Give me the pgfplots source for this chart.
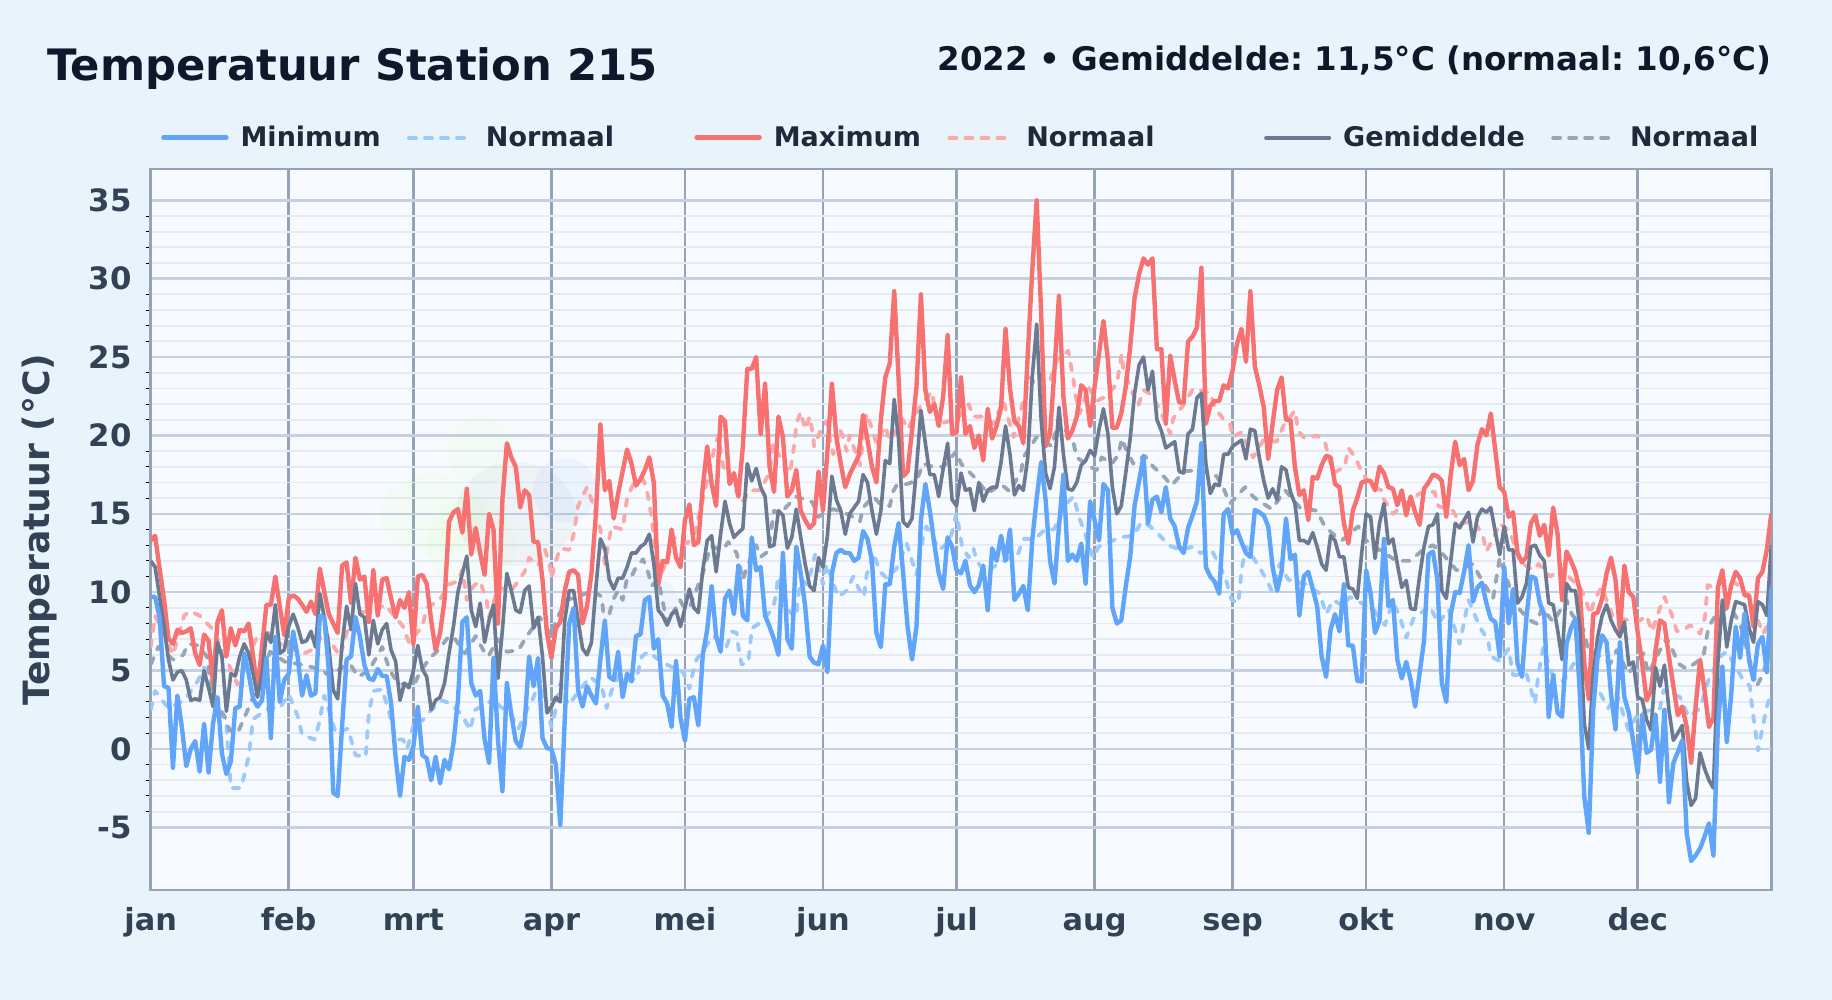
\documentclass[border=0pt]{standalone}
\usepackage{fontspec}
\setmainfont{DejaVu Sans}
\usepackage{pgfplots}
\usepackage{pgfplotstable}
\pgfplotsset{compat=1.18}
\usepgfplotslibrary{fillbetween}

\definecolor{pagebg}{HTML}{E9F3FC}
\definecolor{plotbg}{HTML}{F7FBFF}
\definecolor{titlec}{HTML}{0F172A}
\definecolor{labelc}{HTML}{334155}
\definecolor{legc}{HTML}{1E293B}
\definecolor{gridv}{HTML}{94A3B8}
\definecolor{gridh}{HTML}{C5D0E0}
\definecolor{gridm}{HTML}{E6EBF3}
\definecolor{cmin}{HTML}{60A5FA}
\definecolor{cmax}{HTML}{F87171}
\definecolor{cgem}{HTML}{6B7A90}
\definecolor{nmin}{HTML}{9CC8FB}
\definecolor{nmax}{HTML}{FBA8A8}
\definecolor{ngem}{HTML}{98A5B6}

\pgfplotsset{
    layers/withpage/.define layer set={page,axis background,axis grid,axis ticks,axis lines,axis tick labels,pre main,main,axis descriptions,axis foreground}{},
    set layers=withpage,
}

% daily values: day, minimum, maximum, mean
\pgfplotstableread{
day tmin tmax tgem
0 9.7 13.3 12.0
1 9.7 13.6 11.6
2 8.4 11.5 9.7
3 4.0 9.5 7.8
4 3.9 7.05 5.7
5 -1.2 6.7 4.4
6 3.4 7.6 4.9
7 1.4 7.4 5.0
8 -1.1 7.5 4.4
9 0 7.7 3.1
10 0.5 6.1 3.2
11 -1.45 5.35 3.1
12 1.6 7.3 5.0
13 -1.5 6.9 3.9
14 1.6 4.2 2.7
15 3.3 8.1 6.8
16 -0.3 8.85 5.9
17 -1.6 5.9 2.4
18 -0.8 7.7 4.8
19 2.6 6.6 4.65
20 2.7 7.6 5.9
21 6.1 7.5 6.7
22 4.8 8.0 6.1
23 3.2 5.9 4.8
24 2.7 3.75 3.3
25 3.1 6.5 4.8
26 5.8 9.2 7.4
27 0.7 9.2 6.8
28 7.15 11.0 9.2
29 3.0 9.1 6.1
30 4.4 7.25 6.3
31 4.8 9.6 7.8
32 7.5 9.8 8.6
33 5.9 9.6 7.8
34 3.4 9.2 6.8
35 4.7 8.75 6.9
36 3.4 9.4 7.5
37 3.55 8.6 6.5
38 8.5 11.5 9.9
39 8.4 10.0 8.4
40 5.0 8.6 6.5
41 -2.8 8.0 3.75
42 -3.0 7.4 3.2
43 1.5 11.7 6.7
44 5.7 11.9 9.1
45 5.9 9.3 7.6
46 8.4 12.2 10.55
47 7.15 10.8 8.6
48 5.35 11.0 8.4
49 4.5 8.1 6.0
50 4.4 11.4 8.2
51 5.1 8.5 6.7
52 4.65 10.8 7.6
53 4.65 10.9 8.0
54 2.9 9.6 6.3
55 -0.5 8.4 5.6
56 -3.0 9.5 3.1
57 -0.5 9.0 4.2
58 -0.7 10.0 3.9
59 0.15 6.7 5.0
60 2.7 11.0 6.6
61 -0.4 11.1 5.1
62 -0.6 10.55 4.6
63 -2.0 8.2 2.5
64 -0.5 6.3 3.1
65 -2.2 7.4 3.3
66 -0.7 9.5 4.2
67 -1.3 14.5 6.1
68 0.35 15.1 7.8
69 3.1 15.3 10.0
70 8.1 13.8 11.2
71 8.4 16.6 12.3
72 4.2 12.4 8.85
73 3.4 14.1 7.8
74 3.7 12.5 9.3
75 0.6 11.1 6.8
76 -0.9 15.0 8.2
77 5.8 14.0 9.2
78 0.6 8.0 4.5
79 -2.7 15.9 7.6
80 4.2 19.5 11.2
81 2.2 18.6 10.1
82 0.5 18.0 8.85
83 0.1 15.4 8.7
84 1.6 16.5 10.1
85 5.9 16.2 10.4
86 4.0 13.2 7.7
87 5.8 13.2 8.4
88 0.7 10.8 5.9
89 0.05 7.4 2.3
90 0 5.8 2.7
91 -1.0 7.7 3.3
92 -4.85 8.1 3.0
93 1.9 10.1 8.2
94 8.0 11.3 10.1
95 9.0 11.4 10.1
96 3.75 11.1 8.2
97 2.7 8.0 6.4
98 4.0 9.1 6.0
99 3.4 11.2 6.8
100 2.9 15.0 10.3
101 5.7 20.7 13.4
102 8.2 16.5 12.8
103 4.6 17.1 10.8
104 4.4 14.7 10.2
105 6.2 16.3 10.9
106 3.3 17.7 10.9
107 4.8 19.1 11.6
108 4.3 18.2 12.5
109 7.2 16.8 12.5
110 7.3 17.2 12.9
111 9.5 17.8 13.1
112 9.7 18.6 13.7
113 6.4 17.0 11.8
114 7.0 10.5 8.85
115 3.4 12.0 8.5
116 2.9 11.9 7.9
117 1.4 14.0 8.6
118 5.6 12.2 8.85
119 2.0 11.6 7.8
120 0.5 14.6 9.0
121 3.2 15.6 10.2
122 3.3 13.0 9.0
123 1.5 13.2 8.7
124 6.0 16.7 11.4
125 7.6 19.3 13.3
126 10.4 16.9 13.6
127 7.2 15.5 11.3
128 6.2 21.2 13.7
129 9.6 20.9 15.8
130 10.1 16.9 14.4
131 8.6 17.6 13.5
132 11.7 16.1 13.8
133 8.5 19.3 14.05
134 8.2 24.25 18.2
135 13.5 24.25 17.1
136 11.4 25.0 17.9
137 11.6 20.1 16.7
138 8.5 23.3 16.1
139 7.8 18.0 12.9
140 7.0 16.4 13.0
141 6.0 21.2 15.2
142 12.5 19.9 14.9
143 7.0 16.1 12.8
144 6.4 16.5 13.5
145 12.9 17.8 15.3
146 11.2 15.2 13.5
147 9.1 14.6 11.8
148 5.9 14.1 10.4
149 5.5 14.4 10.1
150 5.4 17.7 12.2
151 6.6 15.2 11.6
152 4.9 19.0 13.6
153 11.2 23.3 17.4
154 12.5 19.9 15.9
155 12.7 18.2 15.2
156 12.5 16.7 13.7
157 12.5 17.5 15.0
158 12.0 18.1 15.4
159 12.2 18.7 15.8
160 13.9 21.3 17.5
161 13.4 19.7 17.0
162 12.0 18.0 15.2
163 7.4 17.0 13.7
164 6.5 21.0 15.2
165 10.5 23.7 18.4
166 10.5 24.6 18.2
167 12.9 29.2 22.3
168 14.4 23.5 19.7
169 11.2 17.4 14.5
170 7.8 17.7 14.2
171 5.7 20.3 14.7
172 7.8 23.1 17.9
173 14.6 29.0 21.6
174 16.9 22.9 19.5
175 15.2 21.5 17.5
176 13.1 22.0 17.5
177 11.2 20.6 16.1
178 10.2 22.5 17.9
179 13.5 26.4 19.5
180 12.9 20.1 15.9
181 11.4 20.2 15.5
182 11.2 23.7 17.6
183 12.0 20.1 16.5
184 10.45 20.6 16.6
185 10.0 19.2 15.2
186 10.45 20.0 17.0
187 11.7 18.4 15.8
188 8.85 21.7 16.5
189 12.8 19.8 16.7
190 12.0 20.6 16.7
191 13.6 21.8 18.3
192 12.0 26.8 20.6
193 14.0 23.0 18.8
194 9.5 20.9 16.2
195 9.9 20.6 16.8
196 10.4 19.5 16.5
197 8.85 25.2 18.6
198 13.3 30.5 23.7
199 16.0 35.0 27.1
200 18.3 27.8 21.0
201 15.9 19.3 17.6
202 12.0 20.1 16.6
203 10.55 24.2 18.0
204 14.2 28.9 21.8
205 17.5 22.5 18.8
206 12.0 19.8 16.6
207 12.4 20.3 16.5
208 12.0 21.2 17.0
209 13.1 23.2 18.1
210 10.55 22.9 18.4
211 15.8 20.6 19.05
212 14.6 23.1 18.7
213 13.3 25.2 20.4
214 16.9 27.3 21.7
215 16.5 24.8 20.1
216 9.0 20.5 16.7
217 8.0 20.5 15.0
218 8.2 21.4 15.5
219 10.35 23.1 17.6
220 12.25 25.6 19.8
221 15.55 28.8 22.7
222 17.1 30.3 24.5
223 18.7 31.3 25.0
224 14.4 30.9 22.9
225 15.9 31.3 24.1
226 16.1 25.5 21.0
227 15.1 25.5 20.3
228 16.7 20.75 19.2
229 14.7 25.1 19.4
230 14.2 23.5 19.6
231 12.9 22.1 17.7
232 12.5 22.1 17.6
233 14.1 26.0 20.1
234 14.9 26.3 20.4
235 15.8 26.9 22.4
236 19.5 30.7 22.7
237 11.6 20.75 18.2
238 11.0 21.9 16.3
239 10.65 22.2 16.9
240 9.9 22.2 16.8
241 15.0 23.2 18.8
242 15.3 23.0 18.8
243 13.7 24.15 19.3
244 13.95 25.85 19.5
245 13.2 26.8 19.7
246 12.5 24.7 18.5
247 12.25 29.2 20.4
248 15.25 24.4 20.3
249 15.1 23.2 18.6
250 14.9 21.8 17.1
251 14.2 18.5 16.0
252 11.6 20.75 16.6
253 10.1 22.9 15.9
254 11.3 23.7 18.0
255 14.7 21.0 17.8
256 12.1 21.0 16.4
257 12.4 18.0 15.65
258 8.5 16.2 13.3
259 11.0 16.5 13.3
260 11.3 14.6 13.1
261 10.2 17.35 13.8
262 9.1 17.25 12.9
263 5.9 18.1 11.8
264 4.6 18.7 11.4
265 7.6 18.6 13.6
266 8.6 16.9 13.3
267 7.5 16.7 12.25
268 10.5 14.4 12.25
269 6.6 13.1 10.3
270 6.6 15.2 10.2
271 4.35 16.0 9.6
272 4.3 17.0 12.5
273 11.4 17.1 15.0
274 9.9 17.1 14.8
275 7.4 16.5 12.15
276 8.2 18.0 14.4
277 13.4 17.6 15.65
278 9.1 16.7 13.1
279 9.5 16.6 13.4
280 5.7 15.55 11.8
281 4.5 16.5 10.3
282 5.55 14.9 10.75
283 4.4 16.1 8.95
284 2.7 15.1 8.9
285 4.8 14.3 11.0
286 6.9 16.6 12.9
287 12.4 17.0 14.2
288 12.6 17.5 14.3
289 10.8 17.4 15.0
290 4.2 17.1 10.1
291 3.0 14.8 9.6
292 8.6 17.5 12.0
293 10.0 19.6 14.4
294 9.95 18.1 14.1
295 11.3 18.5 14.6
296 13.0 16.5 15.1
297 9.4 17.1 13.2
298 10.3 19.4 14.8
299 10.6 20.4 15.3
300 9.3 20.0 15.1
301 8.3 21.4 15.4
302 8.1 19.05 13.85
303 5.9 16.7 12.4
304 11.6 16.4 14.2
305 8.0 14.8 12.7
306 10.2 15.1 12.7
307 5.45 12.5 9.3
308 4.6 11.9 9.7
309 8.4 12.25 10.55
310 11.0 14.4 12.9
311 10.9 14.9 13.0
312 9.3 13.6 12.35
313 8.6 14.3 12.0
314 2.05 12.35 9.3
315 4.7 15.4 9.2
316 2.3 13.7 7.6
317 2.05 9.5 5.7
318 6.7 12.6 10.55
319 7.7 12.0 10.1
320 8.3 11.3 10.1
321 3.5 10.1 7.8
322 -3.05 5.45 1.6
323 -5.35 3.2 0
324 2.5 8.6 4.8
325 5.9 8.7 7.15
326 7.25 9.6 8.5
327 6.8 11.2 9.2
328 3.5 12.2 8.2
329 1.25 10.8 7.6
330 6.8 7.5 7.15
331 3.3 11.7 8.1
332 2.3 10.0 5.35
333 0.45 9.7 5.55
334 -1.55 7.4 3.3
335 2.2 5.45 3.15
336 -0.25 3.1 1.85
337 -0.05 3.75 1.2
338 2.2 6.3 5.2
339 -2.1 8.2 4.0
340 2.5 8.0 5.35
341 -3.4 5.9 2.5
342 -0.9 4.0 0.55
343 -0.2 2.15 1.0
344 0.55 2.7 1.5
345 -5.4 1.4 -2.1
346 -7.15 -0.9 -3.6
347 -6.8 2.7 -3.15
348 -6.35 5.7 -0.25
349 -5.6 3.75 -1.25
350 -4.75 1.4 -2.0
351 -6.8 2.0 -2.5
352 1.4 10.3 5.5
353 5.25 11.4 9.5
354 0.45 9.0 6.5
355 3.5 10.45 8.2
356 7.8 11.3 9.4
357 5.8 10.9 9.3
358 8.65 9.8 9.2
359 5.65 9.8 7.7
360 4.4 7.8 6.8
361 6.7 10.9 9.4
362 7.15 11.3 9.2
363 4.9 12.7 8.5
364 10.3 15.0 13.0
}\daily

% normal minimum
\pgfplotstableread{
day val
0 2.5
1 3.7
4 2.6
7.5 3.1
10.5 4.3
12 5.2
14 4.0
15 2.9
17 1.5
18 -2.5
20.3 -2.5
22 -0.5
23 1.9
25 2.3
26.5 2.6
29 2.6
31 3.5
33 2.1
34 0.9
36.8 0.6
37.7 1.5
39 3.4
41.6 1.0
44.3 1.3
46 -0.4
48.3 -0.5
49 2.3
50 3.7
52 3.8
53.6 2.3
55 0.6
56.7 0.6
57.6 0
59.4 1.9
61 1.8
62.7 2.4
65.4 3.1
67.2 2.9
69.9 2.2
71.7 1.2
72.9 2.5
74.3 2.7
75.8 2.9
77 3.3
78.5 2.7
80.7 2.3
82.6 1.3
84.5 2.5
86 3.3
87.4 4.4
90 1.4
90.8 2.3
92 4.2
93.8 2.8
95.7 3.5
98.7 4.6
101.3 4.0
102.4 2.6
103.5 3.7
105.4 4.8
109 4.4
110.3 5.9
111.8 6.2
115 5.5
119.6 4.9
121 3.85
121.7 4.8
122.6 5.7
126.3 7.2
129.3 6.5
130.5 7.5
131.6 7.4
132 6.5
132.7 5.4
134.2 5.5
134.6 6.5
135 7.7
137.2 8.1
139.8 9.0
140.5 9.9
140.9 11.0
143.5 8.75
145 8.4
145.4 9.7
146.2 10.8
147.3 10.5
148.4 11.4
149.2 12.4
151 10.5
151.8 11.8
154.4 9.7
156.3 10.1
157.8 11.0
158.9 10.3
160.2 9.7
160.8 11.1
162.3 12.5
163.8 11.3
165.3 10.9
167.5 11.5
169.8 13.1
170.9 12.1
172 11.1
173.5 13.5
174.2 14.2
177.2 12.7
179.5 13.3
181 15.0
182.2 13.0
183.7 12.2
184.8 12.8
185.5 12.0
187.4 11.3
191 11.9
194.9 12.5
196 13.4
198.6 13.4
200.9 14.0
202.8 14.0
204.3 14.8
205.8 15.7
207.3 16.1
208.4 14.9
209.5 14.0
211.7 12.2
212.9 12.9
217.7 13.5
220.7 13.6
222.6 14.5
224.5 14.2
226.7 13.6
228.6 13.0
231.2 12.7
234.2 12.9
235.7 12.5
238.3 12.7
240.6 11.4
241.7 10.6
242.8 9.5
244.3 9.3
245 11.4
246 12.9
249 11.6
250.6 10.8
251.8 10.1
253.6 11.8
255.5 10.8
259.6 10.5
262.6 9.9
264 8.6
265.6 9.5
267.9 9.1
269.3 9.7
272 9.3
274.6 8.9
277.2 7.9
279 9.4
280.6 8.4
282 7.1
283.6 8.3
287.3 9.1
289.2 8.0
291.5 8.9
294 6.7
295.2 8.4
296 9.5
298.5 7.8
300.4 6.9
301 5.9
303 5.6
305 6.4
306 4.7
309 4.8
310.9 2.9
311.7 4.8
312.8 6.5
314.7 4.8
317.3 4.3
319.6 5.45
321.8 5.2
325.2 3.75
327.4 2.6
329.3 3.5
331.9 1.2
334.2 2.3
339 2.6
339.8 3.75
343.5 3.3
345.4 2.05
348 2.6
349.9 4.4
352.5 5.9
354 6.2
357.7 4.4
359.2 4.0
359.6 2.9
361 -0.1
363 2.7
364 3.6
}\normmin

% normal maximum
\pgfplotstableread{
day val
0 6.5
1 8.5
5 6.0
7.5 8.5
8.8 8.8
11 8.5
13.7 7.7
16 6.4
19.5 4.1
23.9 7.2
26.5 7.4
29.5 6.6
34.5 6.1
36.8 6.4
39 7.5
42.5 5.9
44 7.4
46 8.7
50 8.8
52.6 9.2
55 8.4
56.7 7.8
58 6.8
61 7.8
62 9.0
64.9 9.5
67 10.5
69 10.7
70 11.4
71 9.5
72.5 10.4
74 10.7
75.5 9.4
76 8.4
78 10.3
81 10.1
82.5 10.7
84 11.3
85 12.2
87 11.7
88.6 12.7
89.7 11.6
90 10.9
91 12.0
92 12.8
94 12.7
95 13.7
96 15.5
98 16.7
99 15.9
101 14.0
102 11.8
103.5 14.2
106 14.0
107 16.0
108.4 16.9
110.6 17.2
111.4 16.6
112.5 14.8
114 10.8
116 12.0
117.4 13.5
120.4 13.1
122 13.6
124 15.9
126.7 19.3
127.5 20.0
128.6 18.0
130.5 17.1
132.7 15.7
134.6 16.5
136.8 16.5
139 17.6
139.8 19.5
141.7 18.4
143.6 17.6
144.7 19.7
145 20.75
146 21.5
147 20.4
148 21.2
148.8 20.0
149 19.3
150.3 20.2
151.8 20.9
153.3 18.8
154.8 20.4
155.5 19.9
156.3 19.0
157 20.0
158.2 19.0
159.3 18.1
160.8 21.4
161.9 20.5
163 19.5
165 20.6
166 19.7
169 21.0
170 20.4
172.7 21.8
175.4 22.8
176.9 20.75
181 21.0
183.7 22.0
184.8 21.2
187 21.2
189.3 20.75
191.5 22.2
193.8 19.9
196 22.2
197.5 23.7
199.8 22.9
202 23.5
203.5 24.8
206.1 25.4
207.3 23.5
207.6 22.7
208.7 21.4
210.6 23.1
212.5 22.2
214.7 22.5
217 23.3
218.1 25.2
218.5 24.1
220.4 22.8
221.8 21.9
223 22.9
224.8 22.6
226.7 21.6
229 20.1
229.7 21.1
231.6 21.8
234.2 23.0
238 22.7
239 21.8
241 21.0
242.4 20.75
243 19.9
245 20.2
247.6 18.6
249.9 19.7
252.9 19.6
254.4 20.6
257 21.6
257.7 20.3
259.2 19.8
261.9 20.0
263.7 19.6
265.6 17.6
268.2 18.0
269 19.2
270.8 18.5
272 17.6
274.6 16.7
276.5 16.5
276.8 16.0
279 15.0
285 16.3
286.6 16.4
288.4 16.4
289.2 15.5
292.5 15.2
294 14.4
297.4 14.5
299.3 13.5
300 12.6
301.5 13.4
303 14.4
305.3 13.85
307.6 11.9
310.6 11.4
311.7 11.8
314.3 11.0
317.7 11.6
318.8 10.9
321 10.3
322.2 9.6
323.3 8.6
324.4 9.6
325.9 10.3
328.5 8.4
332.3 8.2
334.5 8.2
336 8.5
337.2 7.5
339 9.0
340 9.7
341.6 8.6
342.8 7.5
344.3 7.6
345.8 7.9
348 7.35
349.1 8.4
349.7 10.45
351 10.3
354.7 10.9
358.5 9.9
362.2 7.35
364 8.4
}\normmax

% normal mean
\pgfplotstableread{
day val
0 5.4
1.7 6.5
5 5.7
7.3 6.0
8.4 6.7
10.7 6.6
12.6 5.9
14 3.3
16.7 2.0
17.7 1.2
19.5 1.0
21.5 2.3
25 4.6
26.8 6.2
30.5 5.5
32.8 5.45
38 5.1
40 4.7
44.7 5.45
46.6 4.6
49 5.0
52 6.5
53.7 5.0
55.6 4.2
59 4.0
60.5 4.9
62.7 5.8
64.6 6.3
67 7.2
68.4 7.0
70.6 6.1
73 7.2
74.7 6.3
75.8 5.9
78 7.0
80 6.2
82.6 6.3
84.5 7.2
86 7.8
87.4 8.4
90 7.2
91 8.2
93.4 9.5
95.7 9.7
97.5 9.9
99.4 10.1
101.3 9.7
101.7 8.6
103 8.6
104 9.6
105 10.1
106 9.5
107 10.9
108 11.0
109 11.6
110.6 12.1
111.8 11.2
112.5 10.4
114 10.8
116 8.0
118.9 9.5
119.6 9.1
121 9.0
124 11.2
125.7 12.9
128.6 12.7
129.7 13.2
131.6 12.5
133 10.8
133.8 11.5
136 13.0
137 12.25
138.7 12.6
140 15.2
141.3 15.0
145 16.1
147 15.9
148.6 15.75
150 14.8
151 15.0
153.3 15.3
156.3 15.0
157.8 14.8
159.3 14.5
160 15.4
162.3 16.1
163.8 15.65
166 15.5
166.7 16.4
167.5 16.8
169.8 16.9
172 17.1
173.5 18.2
175.7 18.0
178 18.0
181 19.0
182 18.2
184.8 17.4
188 16.3
191 16.9
193 16.4
195.6 17.8
196 18.6
199 19.9
202.4 19.3
204 21.0
207.3 19.5
208 18.6
211 18.0
212.5 17.8
213.6 18.6
215.9 18.2
217.4 18.8
218.1 19.8
219.2 19.0
220.7 18.2
223.3 18.7
225.2 18.0
227.5 17.4
229.3 16.8
232 17.7
235.3 17.8
239.4 17.4
241 16.6
242.4 15.65
245.8 16.7
247.6 16.1
249.1 15.8
251.8 15.3
254.8 16.5
258.1 15.4
261.9 15.2
263.7 14.2
266 13.6
267.5 13.3
269.3 13.7
271.2 14.2
273 13.3
276 12.7
279.8 12.0
282.8 12.0
285.8 12.7
288 13.0
290.3 12.4
293.3 11.4
297 11.8
298.5 11.0
301.5 9.6
303 12.2
305.7 9.9
307.6 8.85
309.8 8.2
311.3 8.0
312.5 9.0
315 8.1
318 9.5
319.2 8.6
321.8 7.6
322.9 6.3
325.6 5.9
327.8 5.45
329.3 6.3
331.9 4.8
335.3 6.1
336.4 4.8
338.3 5.9
339 6.3
340.5 7.05
342 6.2
343.1 5.45
345 5.1
347.3 5.55
348.8 6.0
349.9 7.8
351.8 8.65
354.7 9.05
357 8.0
360.7 4.0
362.2 4.8
364 6.8
}\normgem

\begin{document}
\begin{tikzpicture}
\node[anchor=base west,inner sep=0pt,text=titlec,font=\bfseries\fontsize{21.65}{24}\selectfont] at (-52pt,404.7pt) {Temperatuur Station 215};
\node[anchor=base east,inner sep=0pt,text=titlec,font=\bfseries\fontsize{16.25}{20}\selectfont] at (810.3pt,409.5pt) {\frenchspacing 2022 • Gemiddelde: 11,5°C (normaal: 10,6°C)};

\begin{axis}[
    at={(0pt,0pt)}, anchor=south west,
    scale only axis, width=810.3pt, height=360.5pt,
    xmin=0, xmax=364, ymin=-9, ymax=37,
    xtick={0,31,59,90,120,151,181,212,243,273,304,334},
    xticklabels={jan,feb,mrt,apr,mei,jun,jul,aug,sep,okt,nov,dec},
    ytick={-5,0,5,10,15,20,25,30,35},
    yticklabels={-5,0,5,10,15,20,25,30,35},
    minor y tick num=4,
    xmajorgrids, ymajorgrids, yminorgrids,
    major x grid style={gridv,line width=1.3pt},
    major y grid style={gridh,line width=1.3pt},
    minor y grid style={gridm,line width=0.9pt},
    extra y ticks={0}, extra y tick labels={},
    extra y tick style={grid style={gridv,line width=1.2pt},major tick length=0pt},
    axis line style={gridv,line width=1.3pt},
    axis background/.style={fill=plotbg},
    tick pos=left, major tick length=0pt, minor tick length=2.5pt,
    minor tick style={black,line width=0.5pt}, tick align=outside,
    xticklabel style={anchor=base,yshift=-20.5pt,inner sep=0pt,text=labelc,font=\bfseries\fontsize{15.2}{18}\selectfont},
    yticklabel style={anchor=east,xshift=-9.4pt,inner sep=0pt,text=labelc,font=\bfseries\fontsize{15.4}{18}\selectfont},
    ylabel={Temperatuur (°C)},
    y label style={at={(axis description cs:-0.0685,0.5)},anchor=center,text=labelc,font=\bfseries\fontsize{18.1}{20}\selectfont},
    clip mode=individual,
    legend columns=6,
    legend cell align=left,
    legend image code/.code={\draw[#1] (0pt,0pt) -- (31.5pt,0pt);},
    legend style={at={(axis description cs:0.0065,1.0435)},anchor=west,draw=none,fill=none,inner sep=0pt,outer sep=0pt,
        text=legc,font=\bfseries\fontsize{13.5}{16}\selectfont,
        /tikz/every odd column/.append style={column sep=4pt},
        /tikz/every even column/.append style={column sep=11.2pt}},
    no markers,
    every axis plot/.append style={forget plot,line join=round},
]
% page colour goes on its own layer below the axis
\begin{pgfonlayer}{page}
\fill[pagebg] (rel axis cs:-0.09299,-0.15257) rectangle (rel axis cs:1.03746,1.23440);
\end{pgfonlayer}

% legend entries
\addlegendimage{cmin,line width=2.2pt,line cap=round}
\addlegendentry{Minimum}
\addlegendimage{nmin,line width=1.9pt,line cap=round,dash pattern=on 3.5pt off 4.5pt}
\addlegendentry{Normaal\hspace*{26.9pt}}
\addlegendimage{cmax,line width=2.2pt,line cap=round}
\addlegendentry{Maximum}
\addlegendimage{nmax,line width=1.9pt,line cap=round,dash pattern=on 3.5pt off 4.5pt}
\addlegendentry{Normaal\hspace*{41.6pt}}
\addlegendimage{cgem,line width=2pt,line cap=round}
\addlegendentry{Gemiddelde}
\addlegendimage{ngem,line width=1.9pt,line cap=round,dash pattern=on 3.5pt off 4.5pt}
\addlegendentry{Normaal}

% faint logo shapes behind the data
\fill[green!45!yellow,opacity=0.035] (axis cs:74,19) ellipse [x radius=17pt,y radius=17pt];
\fill[green!45!yellow,opacity=0.035] (axis cs:63,15) ellipse [x radius=26pt,y radius=20pt];
\fill[green!45!yellow,opacity=0.035] (axis cs:72,13) ellipse [x radius=22pt,y radius=24pt];
\fill[cmin,opacity=0.08] (axis cs:93,16.5) ellipse [x radius=16pt,y radius=16pt];
\fill[cgem,opacity=0.06] (axis cs:82,15) ellipse [x radius=30pt,y radius=26pt];
\fill[cmin,opacity=0.06] (axis cs:108,9) ellipse [x radius=24pt,y radius=20pt];

\addplot[draw=none,name path=nminp] table[x=day,y=val] {\normmin};
\addplot[draw=none,name path=nmaxp] table[x=day,y=val] {\normmax};
\addplot[cmin,opacity=0.09] fill between[of=nminp and nmaxp];

\addplot[nmin,line width=1.9pt,line cap=round,dash pattern=on 3.5pt off 4.5pt] table[x=day,y=val] {\normmin};
\addplot[nmax,line width=1.9pt,line cap=round,dash pattern=on 3.5pt off 4.5pt] table[x=day,y=val] {\normmax};
\addplot[ngem,line width=1.9pt,line cap=round,dash pattern=on 3.5pt off 4.5pt] table[x=day,y=val] {\normgem};

\addplot[cmax,line width=2.2pt] table[x=day,y=tmax] {\daily};
\addplot[cgem,line width=1.8pt] table[x=day,y=tgem] {\daily};
\addplot[cmin,line width=2.2pt] table[x=day,y=tmin] {\daily};
\end{axis}
\end{tikzpicture}
\end{document}
